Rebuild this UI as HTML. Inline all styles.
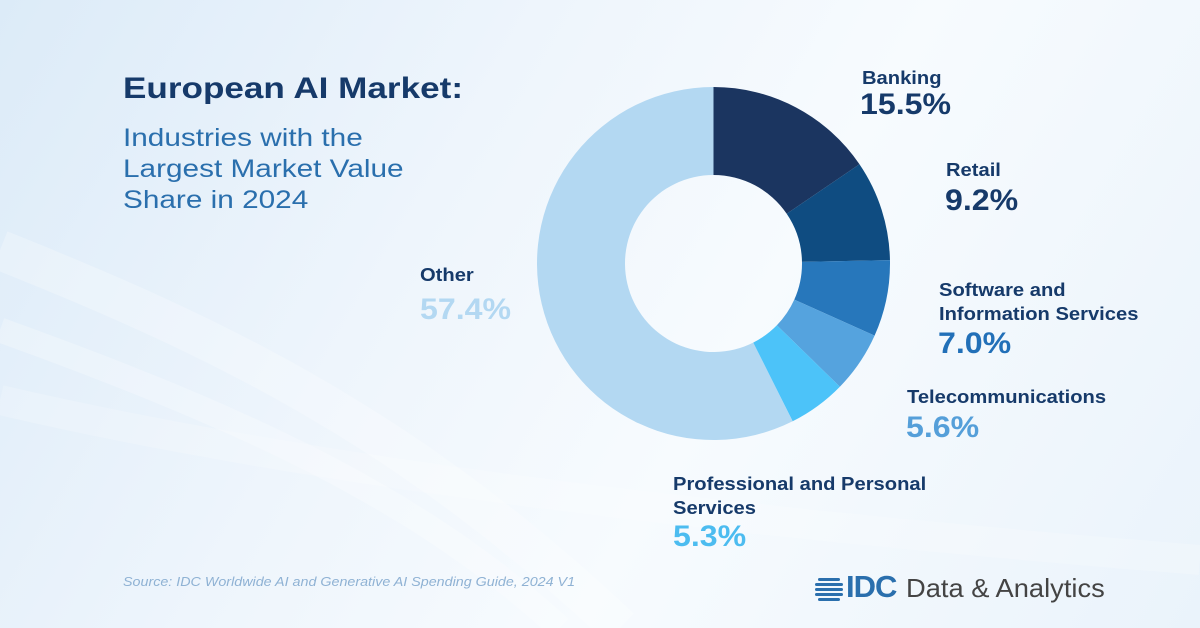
<!DOCTYPE html>
<html><head><meta charset="utf-8"><style>
body{margin:0}
#c{position:relative;width:1200px;height:628px;overflow:hidden;font-family:"Liberation Sans",sans-serif;background:linear-gradient(120deg,#dcebf8 0%,#eef5fc 35%,#f7fbfe 60%,#eaf3fb 100%)}
.t{position:absolute;white-space:nowrap;transform-origin:0 0}
.l{font-weight:bold;font-size:18px;color:#163a6a;transform:scaleX(1.12)}
.v{font-weight:bold;font-size:30px;transform:scaleX(1.07)}
</style></head><body><div id="c">
<svg width="1200" height="628" style="position:absolute;left:0;top:0">
<path d="M0 250 C200 330 400 420 620 628" stroke="#ffffff" stroke-width="40" fill="none" opacity="0.25"/>
<path d="M0 330 C250 420 420 500 560 628" stroke="#ffffff" stroke-width="25" fill="none" opacity="0.25"/>
<path d="M0 400 C300 470 700 520 1200 560" stroke="#ffffff" stroke-width="30" fill="none" opacity="0.2"/>
<g id="d"></g>
</svg>
<div class="t" style="left:123px;top:72px;font-size:30px;font-weight:bold;color:#163a6a;transform:scaleX(1.17)">European AI Market:</div>
<div class="t" style="left:123px;top:123px;font-size:25px;line-height:31px;color:#2a6fad;transform:scaleX(1.19)">Industries with the<br>Largest Market Value<br>Share in 2024</div>
<div class="t l" style="left:862px;top:68px">Banking</div>
<div class="t v" style="left:860px;top:88px;color:#163a6a">15.5%</div>
<div class="t l" style="left:946px;top:160px">Retail</div>
<div class="t v" style="left:945px;top:184px;color:#163a6a">9.2%</div>
<div class="t l" style="left:939px;top:278px;line-height:24px">Software and<br>Information Services</div>
<div class="t v" style="left:938px;top:327px;color:#2270b8">7.0%</div>
<div class="t l" style="left:907px;top:387px">Telecommunications</div>
<div class="t v" style="left:906px;top:411px;color:#559fd9">5.6%</div>
<div class="t l" style="left:673px;top:472px;line-height:24px">Professional and Personal<br>Services</div>
<div class="t v" style="left:673px;top:520px;color:#4cbcf0">5.3%</div>
<div class="t l" style="left:420px;top:265px">Other</div>
<div class="t v" style="left:420px;top:293px;color:#b3d8f2">57.4%</div>
<div class="t" style="left:123px;top:574px;font-size:13px;font-style:italic;color:#8fb2d4;transform:scaleX(1.1)">Source: IDC Worldwide AI and Generative AI Spending Guide, 2024 V1</div>
<svg class="t" style="left:815px;top:576px" width="30" height="26"><g fill="#2a6fad"><rect x="3" y="2" width="22" height="3" rx="1.5"/><rect x="0" y="7" width="28" height="3" rx="1.5"/><rect x="0" y="12" width="28" height="3" rx="1.5"/><rect x="0" y="17" width="28" height="3" rx="1.5"/><rect x="3" y="22" width="22" height="3" rx="1.5"/></g></svg>
<div class="t" style="left:846px;top:569px;font-size:31px;font-weight:bold;color:#2a6fad;letter-spacing:-1px">IDC</div>
<div class="t" style="left:906px;top:573px;font-size:26px;color:#444;transform:scaleX(1.05)">Data &amp; Analytics</div>
</div>
<script>
var cx=713.5,cy=263.5,R=176.5,r=88.5,vals=[15.5,9.2,7.0,5.6,5.3,57.4],cols=["#1b3560","#0f4c81","#2777bb","#55a3de","#4cc3f9","#b3d8f2"],a=0,s="";
function p(rad,ang){return [cx+rad*Math.sin(ang),cy-rad*Math.cos(ang)];}
vals.forEach(function(v,i){var b=a+v/100*2*Math.PI,L=(b-a)>Math.PI?1:0;var A=p(R,a),B=p(R,b),C=p(r,b),D=p(r,a);
s+='<path fill="'+cols[i]+'" d="M'+A+' A'+R+' '+R+' 0 '+L+' 1 '+B+' L'+C+' A'+r+' '+r+' 0 '+L+' 0 '+D+'Z"/>';a=b;});
document.getElementById("d").innerHTML=s;
</script>
</body></html>
